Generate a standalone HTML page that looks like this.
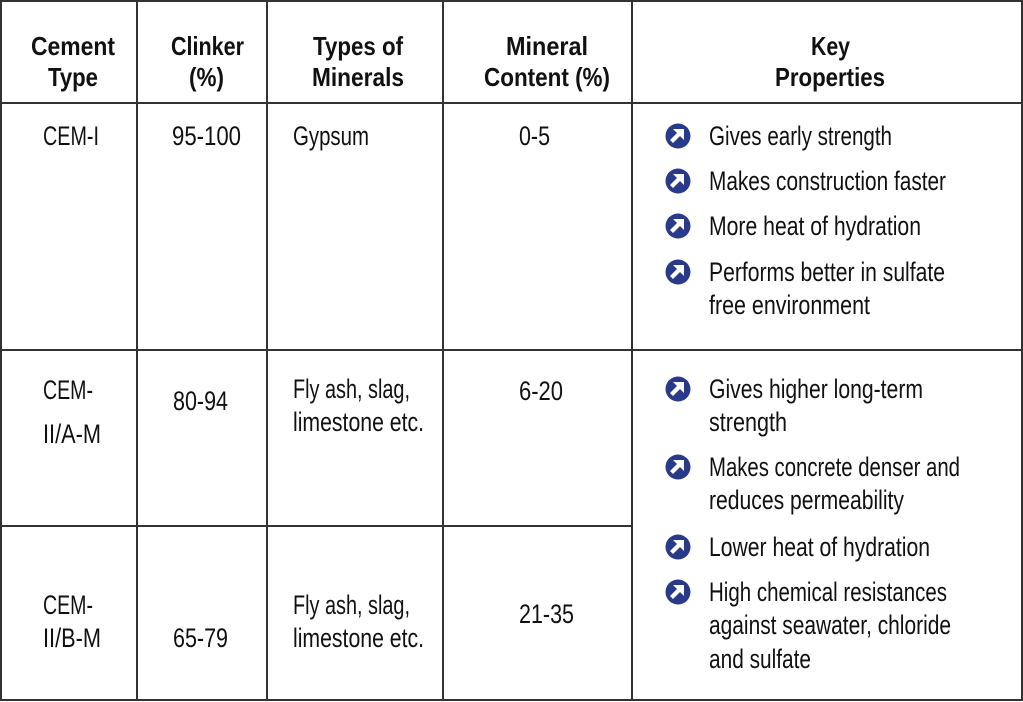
<!DOCTYPE html>
<html><head><meta charset="utf-8"><style>
html,body{margin:0;padding:0;background:#fff;}
svg{display:block;}
text{font-family:"Liberation Sans",sans-serif;fill:#111;}
.h{font-weight:bold;font-size:26px;}
.b{font-size:27px;}
</style></head><body>
<svg width="1023" height="702" viewBox="0 0 1023 702" xmlns="http://www.w3.org/2000/svg">
<defs>
<g id="ic">
<circle cx="0" cy="0" r="12.5" fill="#2a3a8a"/>
<path d="M-5,-7 L6,-7 L6,4 L2,0 L-5,7 L-8,4 L-1,-3 Z" fill="#fff"/>
</g>
</defs>
<g stroke="#333" stroke-width="2" fill="none">
<rect x="1" y="1" width="1021" height="699"/>
<line x1="137" y1="1" x2="137" y2="700"/>
<line x1="267" y1="1" x2="267" y2="700"/>
<line x1="443" y1="1" x2="443" y2="700"/>
<line x1="632" y1="1" x2="632" y2="700"/>
<line x1="1" y1="103" x2="1022" y2="103"/>
<line x1="1" y1="350" x2="1022" y2="350"/>
<line x1="1" y1="526" x2="632" y2="526"/>
</g>
<text class="h" x="31" y="55" textLength="84" lengthAdjust="spacingAndGlyphs">Cement</text>
<text class="h" x="48" y="86" textLength="50" lengthAdjust="spacingAndGlyphs">Type</text>
<text class="h" x="171" y="55" textLength="73" lengthAdjust="spacingAndGlyphs">Clinker</text>
<text class="h" x="189" y="86" textLength="35" lengthAdjust="spacingAndGlyphs">(%)</text>
<text class="h" x="313" y="55" textLength="90" lengthAdjust="spacingAndGlyphs">Types of</text>
<text class="h" x="312" y="86" textLength="92" lengthAdjust="spacingAndGlyphs">Minerals</text>
<text class="h" x="506" y="55" textLength="82" lengthAdjust="spacingAndGlyphs">Mineral</text>
<text class="h" x="484" y="86" textLength="126" lengthAdjust="spacingAndGlyphs">Content (%)</text>
<text class="h" x="811" y="55" textLength="39" lengthAdjust="spacingAndGlyphs">Key</text>
<text class="h" x="775" y="86" textLength="110" lengthAdjust="spacingAndGlyphs">Properties</text>

<text class="b" x="43" y="145" textLength="56" lengthAdjust="spacingAndGlyphs">CEM-I</text>
<text class="b" x="172" y="145" textLength="69" lengthAdjust="spacingAndGlyphs">95-100</text>
<text class="b" x="293" y="145" textLength="76" lengthAdjust="spacingAndGlyphs">Gypsum</text>
<text class="b" x="519" y="145" textLength="31" lengthAdjust="spacingAndGlyphs">0-5</text>

<text class="b" x="43" y="399" textLength="50" lengthAdjust="spacingAndGlyphs">CEM-</text>
<text class="b" x="43" y="443" textLength="58" lengthAdjust="spacingAndGlyphs">II/A-M</text>
<text class="b" x="173" y="410" textLength="55" lengthAdjust="spacingAndGlyphs">80-94</text>
<text class="b" x="293" y="398" textLength="117" lengthAdjust="spacingAndGlyphs">Fly ash, slag,</text>
<text class="b" x="293" y="431" textLength="131" lengthAdjust="spacingAndGlyphs">limestone etc.</text>
<text class="b" x="519" y="400" textLength="44" lengthAdjust="spacingAndGlyphs">6-20</text>

<text class="b" x="43" y="614" textLength="50" lengthAdjust="spacingAndGlyphs">CEM-</text>
<text class="b" x="43" y="647" textLength="58" lengthAdjust="spacingAndGlyphs">II/B-M</text>
<text class="b" x="173" y="647" textLength="55" lengthAdjust="spacingAndGlyphs">65-79</text>
<text class="b" x="293" y="614" textLength="117" lengthAdjust="spacingAndGlyphs">Fly ash, slag,</text>
<text class="b" x="293" y="647" textLength="131" lengthAdjust="spacingAndGlyphs">limestone etc.</text>
<text class="b" x="519" y="623" textLength="55" lengthAdjust="spacingAndGlyphs">21-35</text>

<use href="#ic" x="678" y="136"/>
<use href="#ic" x="678" y="181"/>
<use href="#ic" x="678" y="226"/>
<use href="#ic" x="678" y="272"/>
<use href="#ic" x="678" y="389"/>
<use href="#ic" x="678" y="467"/>
<use href="#ic" x="678" y="547"/>
<use href="#ic" x="678" y="592"/>
<text class="b" x="709" y="145" textLength="183" lengthAdjust="spacingAndGlyphs">Gives early strength</text>
<text class="b" x="709" y="190" textLength="237" lengthAdjust="spacingAndGlyphs">Makes construction faster</text>
<text class="b" x="709" y="235" textLength="212" lengthAdjust="spacingAndGlyphs">More heat of hydration</text>
<text class="b" x="709" y="281" textLength="236" lengthAdjust="spacingAndGlyphs">Performs better in sulfate</text>
<text class="b" x="709" y="314" textLength="161" lengthAdjust="spacingAndGlyphs">free environment</text>
<text class="b" x="709" y="398" textLength="214" lengthAdjust="spacingAndGlyphs">Gives higher long-term</text>
<text class="b" x="709" y="431" textLength="78" lengthAdjust="spacingAndGlyphs">strength</text>
<text class="b" x="709" y="476" textLength="251" lengthAdjust="spacingAndGlyphs">Makes concrete denser and</text>
<text class="b" x="709" y="509" textLength="195" lengthAdjust="spacingAndGlyphs">reduces permeability</text>
<text class="b" x="709" y="556" textLength="221" lengthAdjust="spacingAndGlyphs">Lower heat of hydration</text>
<text class="b" x="709" y="601" textLength="238" lengthAdjust="spacingAndGlyphs">High chemical resistances</text>
<text class="b" x="709" y="634" textLength="242" lengthAdjust="spacingAndGlyphs">against seawater, chloride</text>
<text class="b" x="709" y="668" textLength="102" lengthAdjust="spacingAndGlyphs">and sulfate</text>
</svg>
</body></html>
